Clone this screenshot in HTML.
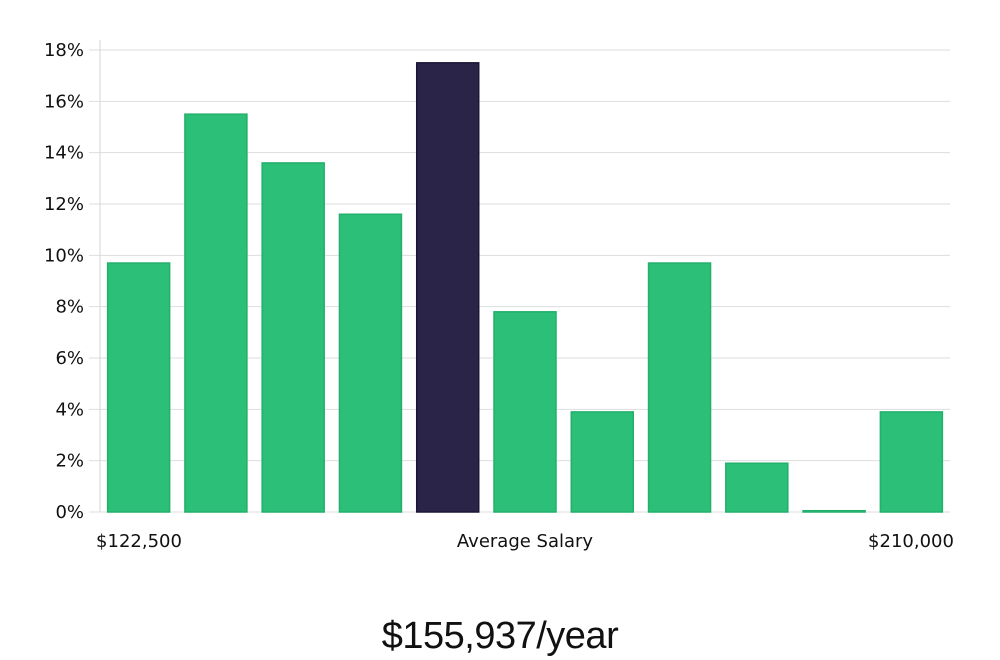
<!DOCTYPE html>
<html><head><meta charset="utf-8">
<style>
html,body{margin:0;padding:0;background:#fff;}
svg{display:block;font-family:"DejaVu Sans","Liberation Sans",sans-serif;}
</style></head>
<body>
<svg id="chart" width="1000" height="660" viewBox="0 0 1000 660">
  <g id="grid"></g>
  <line x1="100" y1="40" x2="100" y2="512" stroke="#d4d4d4" stroke-width="1"/>
  <g id="yticks"></g>
  <g id="bars"></g>
  <text x="139" y="547" font-size="18" fill="#111" text-anchor="middle">$122,500</text>
  <text x="525" y="547" font-size="18" fill="#111" text-anchor="middle">Average Salary</text>
  <text x="911" y="547" font-size="18" fill="#111" text-anchor="middle">$210,000</text>
  <text x="500" y="648" font-size="38" fill="#111" font-weight="300" text-anchor="middle" style="font-family:'Liberation Sans',sans-serif;letter-spacing:-0.5px">$155,937/year</text>
</svg>
<script>
const categories = ["b1","b2","b3","b4","b5","b6","b7","b8","b9","b10","b11"];
const values = [9.7, 15.5, 13.6, 11.6, 17.5, 7.8, 3.9, 9.7, 1.9, 0.05, 3.9];
const highlight = [false,false,false,false,true,false,false,false,false,false,false];
const tickValues = [0,2,4,6,8,10,12,14,16,18];
const tickLabels = ["0%","2%","4%","6%","8%","10%","12%","14%","16%","18%"];

const NS = "http://www.w3.org/2000/svg";
const x0 = 100, x1 = 950, y0 = 512, yTop = 50, yMax = 18;
function y(v){ return y0 - (v / yMax) * (y0 - yTop); }
const slot = (x1 - x0) / categories.length;
function x(i){ return x0 + i * slot; }

const grid = document.getElementById('grid');
const yt = document.getElementById('yticks');
tickValues.forEach((t, i) => {
  const l = document.createElementNS(NS, 'line');
  l.setAttribute('x1', 89); l.setAttribute('x2', x1);
  l.setAttribute('y1', y(t)); l.setAttribute('y2', y(t));
  l.setAttribute('stroke', '#dedede'); l.setAttribute('stroke-width', 1);
  
  
  grid.appendChild(l);
  const tx = document.createElementNS(NS, 'text');
  tx.setAttribute('x', 84); tx.setAttribute('y', y(t) + 6);
  tx.setAttribute('text-anchor', 'end'); tx.setAttribute('font-size', '18'); tx.setAttribute('fill', '#111');
  tx.textContent = tickLabels[i];
  
  
  yt.appendChild(tx);
});

const bars = document.getElementById('bars');
values.forEach((v, i) => {
  const r = document.createElementNS(NS, 'rect');
  const bw = 62;
  r.setAttribute('x', x(i) + (slot - bw) / 2);
  r.setAttribute('y', y(v));
  r.setAttribute('width', bw);
  r.setAttribute('height', Math.max(1, y0 - y(v)));
  r.setAttribute('fill', highlight[i] ? '#2a2448' : '#2bbf78');
  r.setAttribute('stroke', highlight[i] ? '#1a1636' : '#22b06c');
  r.setAttribute('stroke-width', 1.5);
  
  
  bars.appendChild(r);
});
</script>
</body></html>
